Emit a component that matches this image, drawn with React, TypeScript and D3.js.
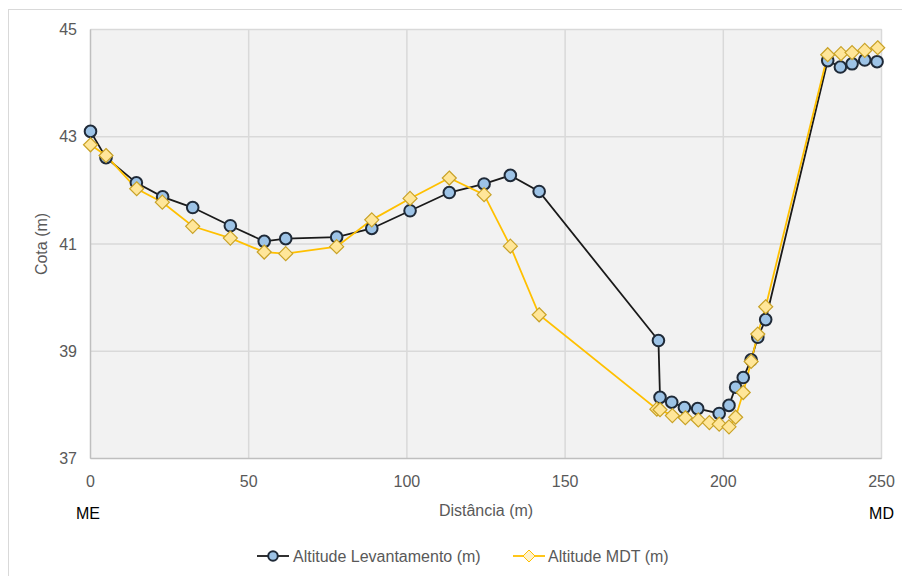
import React from "react";
import * as d3 from "d3";

const levDist = [0, 4.9, 14.5, 22.8, 32.3, 44.2, 54.9, 61.7, 77.8, 88.9, 101, 113.4, 124.4, 132.7, 141.8, 179.5, 180, 183.7, 187.7, 191.9, 198.7, 201.8, 203.9, 206.3, 208.8, 210.9, 213.4, 233, 237, 240.7, 244.7, 248.6];
const levAlt = [43.1, 42.61, 42.14, 41.88, 41.68, 41.34, 41.05, 41.1, 41.13, 41.29, 41.62, 41.96, 42.12, 42.28, 41.98, 39.2, 38.14, 38.05, 37.95, 37.93, 37.84, 37.99, 38.33, 38.51, 38.84, 39.26, 39.59, 44.42, 44.3, 44.36, 44.43, 44.4];
const mdtDist = [0, 4.9, 14.6, 22.7, 32.3, 44.2, 54.9, 61.7, 77.8, 88.9, 101, 113.4, 124.4, 132.7, 141.8, 179, 180, 183.9, 188, 192.1, 195.6, 198.7, 201.8, 203.9, 206.3, 208.8, 210.9, 213.4, 233, 237.2, 240.7, 244.7, 248.8];
const mdtAlt = [42.85, 42.65, 42.03, 41.78, 41.33, 41.11, 40.85, 40.82, 40.95, 41.45, 41.85, 42.23, 41.92, 40.96, 39.68, 37.92, 37.91, 37.8, 37.76, 37.72, 37.67, 37.64, 37.59, 37.77, 38.23, 38.81, 39.32, 39.83, 44.53, 44.55, 44.57, 44.61, 44.66];
const xTicks = [0, 50, 100, 150, 200, 250];
const yTicks = [37, 39, 41, 43, 45];
const seriesNames = ["Altitude Levantamento (m)", "Altitude MDT (m)"];

const FONT = "'Liberation Sans Narrow', 'Arial Narrow', 'Liberation Sans', sans-serif";

export default function App() {
  const W = 902, H = 576;
  const L = 90.5, R = 881.5, T = 29.5, B = 458.5;
  const x = d3.scaleLinear().domain([0, 250]).range([L, R]);
  const y = d3.scaleLinear().domain([37, 45]).range([B, T]);
  const lev = levDist.map((d, i) => [d, levAlt[i]] as [number, number]);
  const mdt = mdtDist.map((d, i) => [d, mdtAlt[i]] as [number, number]);
  const line = d3.line<[number, number]>().x(d => x(d[0])).y(d => y(d[1]));
  const diamond = (cx: number, cy: number, r: number) =>
    `M${cx},${cy - r}L${cx + r},${cy}L${cx},${cy + r}L${cx - r},${cy}Z`;
  const circ = { fill: "#9dc3e6", stroke: "#1f2a38", strokeWidth: 2 };
  const dia = { fill: "#ffe699", stroke: "#c9a227", strokeWidth: 1.2 };
  const txt = "#595959";
  return (
    <svg width={W} height={H} style={{ position: "absolute", left: 0, top: 0 }} fontFamily={FONT}>
      <rect x={0} y={0} width={W} height={H} fill="#fff" />
      <rect x={8.5} y={9.5} width={W} height={H} fill="none" stroke="#d9d9d9" />
      <rect x={L} y={T} width={R - L} height={B - T} fill="#f2f2f2" stroke="#d9d9d9" />
      {xTicks.slice(1).map(t => (
        <line key={"gx" + t} x1={x(t)} x2={x(t)} y1={T} y2={B} stroke="#d9d9d9" strokeWidth={1.5} />
      ))}
      {yTicks.slice(1).map(t => (
        <line key={"gy" + t} x1={L} x2={R} y1={y(t)} y2={y(t)} stroke="#d9d9d9" strokeWidth={1.5} />
      ))}
      <line x1={L} x2={L} y1={T} y2={B} stroke="#bfbfbf" strokeWidth={1.5} />
      <line x1={L} x2={R} y1={B} y2={B} stroke="#bfbfbf" strokeWidth={1.5} />
      {yTicks.map(t => (
        <text key={"ty" + t} x={77} y={y(t)} dy="0.35em" textAnchor="end" fontSize={16} fill={txt}>{t}</text>
      ))}
      {xTicks.map(t => (
        <text key={"tx" + t} x={x(t)} y={481} dy="0.35em" textAnchor="middle" fontSize={16} fill={txt}>{t}</text>
      ))}
      <text x={88} y={513} dy="0.35em" textAnchor="middle" fontSize={16} fill="#000">ME</text>
      <text x={x(250)} y={513} dy="0.35em" textAnchor="middle" fontSize={16} fill="#000">MD</text>
      <text x={486} y={510} dy="0.35em" textAnchor="middle" fontSize={16} fill={txt}>Distância (m)</text>
      <text transform={`translate(41,${(T + B) / 2}) rotate(-90)`} dy="0.35em" textAnchor="middle" fontSize={16} fill={txt}>Cota (m)</text>

      <path d={line(lev) || ""} fill="none" stroke="#1a1a1a" strokeWidth={1.8} />
      <path d={line(mdt) || ""} fill="none" stroke="#ffc000" strokeWidth={1.8} />
      {lev.map((d, i) => (
        <circle key={"c" + i} cx={x(d[0])} cy={y(d[1])} r={5.8} {...circ} />
      ))}
      {mdt.map((d, i) => (
        <path key={"d" + i} d={diamond(x(d[0]), y(d[1]), 7)} {...dia} />
      ))}

      <g transform="translate(257,556)">
        <line x1={0} x2={32} y1={0} y2={0} stroke="#1a1a1a" strokeWidth={1.8} />
        <circle cx={16} cy={0} r={4.8} {...circ} />
        <text x={36} y={0} dy="0.35em" fontSize={16} fill={txt}>{seriesNames[0]}</text>
      </g>
      <g transform="translate(513,556)">
        <line x1={0} x2={32} y1={0} y2={0} stroke="#ffc000" strokeWidth={1.8} />
        <path d={diamond(16, 0, 6)} fill="#fff2cc" stroke="#ffc000" strokeWidth={1} />
        <text x={35} y={0} dy="0.35em" fontSize={16} fill={txt}>{seriesNames[1]}</text>
      </g>
    </svg>
  );
}
